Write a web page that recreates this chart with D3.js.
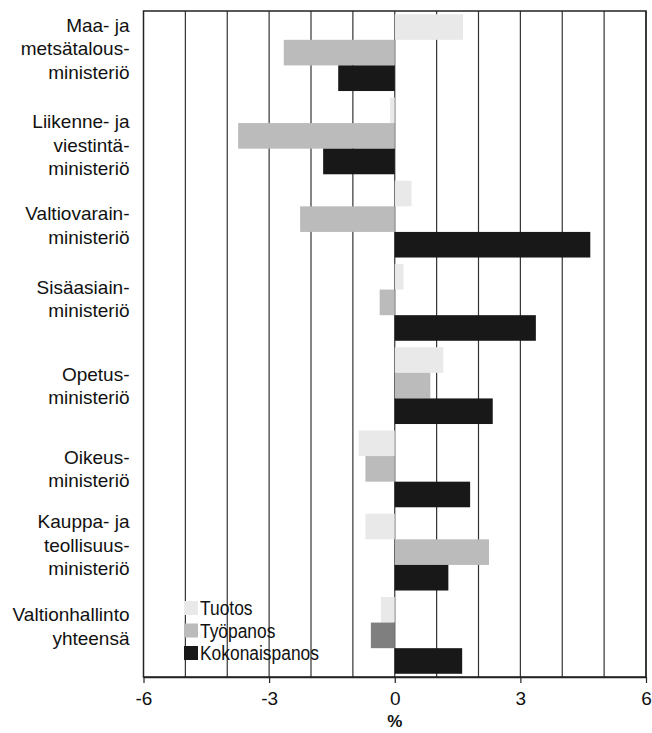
<!DOCTYPE html>
<html>
<head>
<meta charset="utf-8">
<script src="https://cdn.jsdelivr.net/npm/d3@7"></script>
<style>
  body { margin: 0; background: #fff; }
  text { font-family: "Liberation Sans", Arial, sans-serif; fill: #111; }
</style>
</head>
<body>
<div id="plotSect"></div>
<script>
// data //
let categories = [
    ["Maa- ja", "metsätalous-", "ministeriö"],
    ["Liikenne- ja", "viestintä-", "ministeriö"],
    ["Valtiovarain-", "ministeriö"],
    ["Sisäasiain-", "ministeriö"],
    ["Opetus-", "ministeriö"],
    ["Oikeus-", "ministeriö"],
    ["Kauppa- ja", "teollisuus-", "ministeriö"],
    ["Valtionhallinto", "yhteensä"]
];
let seriesNames = ["Tuotos", "Työpanos", "Kokonaispanos"];
let tuotos = [1.63, -0.11, 0.40, 0.21, 1.16, -0.86, -0.70, -0.33];
let tyopanos = [-2.65, -3.74, -2.26, -0.36, 0.85, -0.70, 2.25, -0.57];
let kokonaispanos = [-1.35, -1.71, 4.67, 3.37, 2.34, 1.80, 1.28, 1.61];
let xTicks = [-6, -3, 0, 3, 6];

// chart setup //
let SVGwidth = 652,
    SVGheight = 733,
    margin = {top: 11, right: 6, bottom: 56, left: 143.5},
    width = SVGwidth - margin.left - margin.right,
    height = SVGheight - margin.top - margin.bottom;

let svg = d3.select("#plotSect").append("svg")
    .attr("width", SVGwidth)
    .attr("height", SVGheight)
    .append("g")
    .attr("transform", "translate(" + margin.left + "," + margin.top + ")");

let xScale = d3.scaleLinear().domain([-6, 6]).range([0, width]);
let yScale = d3.scaleBand().domain(d3.range(categories.length)).range([0, height]);
let ySub = d3.scaleBand().domain(seriesNames).range([0, yScale.bandwidth()]).paddingOuter(0.126);

let colors = {"Tuotos": "#e9e9e9", "Työpanos": "#bbbbbb", "Kokonaispanos": "#181818"};
function barColor(s, i) {
    // the total row's labour input bar is drawn darker in the original
    if (s == "Työpanos" && i == categories.length - 1) return "#7f7f7f";
    return colors[s];
}

// gridlines every 1 unit //
svg.selectAll(".grid")
    .data(d3.range(-5, 7))
    .enter().append("line")
    .attr("class", "grid")
    .attr("x1", d => xScale(d)).attr("x2", d => xScale(d))
    .attr("y1", 0).attr("y2", height)
    .attr("stroke", "#333")
    .attr("stroke-width", 1.2);

// bars //
let rows = [];
categories.forEach(function(c, i) {
    rows.push({cat: i, s: "Tuotos", v: tuotos[i]});
    rows.push({cat: i, s: "Työpanos", v: tyopanos[i]});
    rows.push({cat: i, s: "Kokonaispanos", v: kokonaispanos[i]});
});

svg.selectAll(".bar")
    .data(rows)
    .enter().append("rect")
    .attr("class", "bar")
    .attr("x", d => xScale(Math.min(0, d.v)))
    .attr("width", d => Math.abs(xScale(d.v) - xScale(0)))
    .attr("y", d => yScale(d.cat) + ySub(d.s))
    .attr("height", ySub.bandwidth())
    .attr("fill", d => barColor(d.s, d.cat));

// frame //
svg.append("rect")
    .attr("x", 0).attr("y", 0)
    .attr("width", width).attr("height", height)
    .attr("fill", "none")
    .attr("stroke", "#222")
    .attr("stroke-width", 1.5);

// x axis //
let xAxis = svg.append("g")
    .attr("class", "xAxis")
    .attr("transform", "translate(0," + height + ")")
    .call(d3.axisBottom(xScale).tickValues(xTicks).tickSize(6).tickSizeOuter(0));
xAxis.select(".domain").attr("stroke", "#222").attr("stroke-width", 1.5);
xAxis.selectAll(".tick line").attr("stroke", "#222").attr("stroke-width", 1.2);
xAxis.selectAll(".tick text")
    .attr("y", 15)
    .style("font-size", "19px")
    .style("font-family", "'Liberation Sans', sans-serif")
    .attr("fill", "#111")
    .text(d => d < 0 ? "-" + Math.abs(d) : d);

svg.append("text")
    .attr("x", xScale(0))
    .attr("y", height + 50)
    .style("text-anchor", "middle")
    .style("font-size", "17px")
    .style("font-weight", "bold")
    .text("%");

// category labels //
let lineH = 23.5;
let labelShift = [-4, 9, 6, -3.5, 0, 0, -7, -9];
let labels = svg.selectAll(".catLabel")
    .data(categories)
    .enter().append("text")
    .attr("class", "catLabel")
    .style("text-anchor", "end")
    .style("font-size", "19px")
    .attr("transform", (d, i) => "translate(-14," + (yScale(i) + yScale.bandwidth() / 2 + labelShift[i]) + ")");

labels.selectAll("tspan")
    .data(d => d.map((t, j) => ({t: t, j: j, n: d.length})))
    .enter().append("tspan")
    .attr("x", 0)
    .attr("y", d => (d.j - (d.n - 1) / 2) * lineH)
    .attr("dy", "0.35em")
    .text(d => d.t);

// legend //
let legend = svg.selectAll(".legend")
    .data(seriesNames)
    .enter().append("g")
    .attr("class", "legend")
    .attr("transform", (d, i) => "translate(40.5," + (590 + i * 22.5) + ")");

legend.append("rect")
    .attr("width", 14)
    .attr("height", 14)
    .attr("fill", d => colors[d]);

legend.append("text")
    .attr("transform", "translate(16,7) scale(0.87,1)")
    .attr("dy", "0.35em")
    .style("font-size", "20px")
    .text(d => d);
</script>
</body>
</html>
